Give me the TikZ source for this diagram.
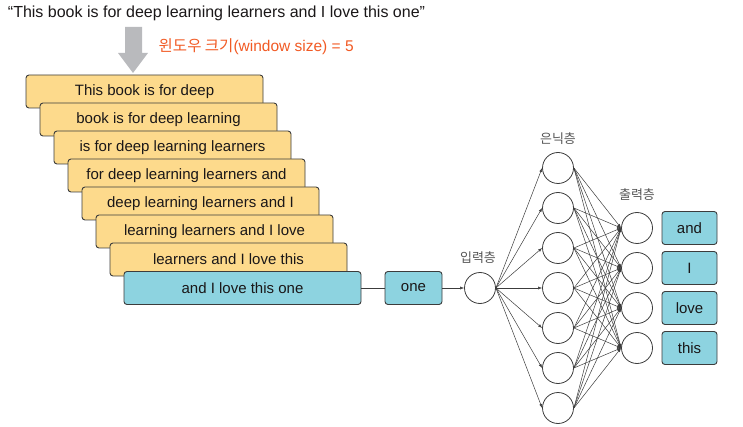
\documentclass[tikz,border=0pt]{standalone}
\usepackage{fontspec}
\setmainfont{Liberation Sans}
\newfontfamily\krfont{Noto Sans CJK KR}
\usepackage{tikz}
\usetikzlibrary{arrows.meta}
\definecolor{wd-text}{HTML}{1A1718}
\definecolor{wd-line}{HTML}{3C3C3C}
\definecolor{wd-yellow}{HTML}{FDDA8C}
\definecolor{wd-blue}{HTML}{8DD3E0}
\definecolor{wd-red}{HTML}{F15A24}
\definecolor{wd-gray}{HTML}{B9BABD}
\definecolor{wd-label}{HTML}{555555}

\tikzset{
    winbox/.style={draw=wd-line, line width=0.9pt, rounded corners=3pt,
        minimum width=237pt, minimum height=33pt, inner sep=0pt,
        text=wd-text, font=\fontsize{15}{17}\selectfont},
    wordbox/.style={winbox, fill=wd-blue, minimum width=55pt},
    neuron/.style={circle, draw=wd-line, line width=0.8pt, fill=white,
        minimum size=31pt, inner sep=0pt},
    link/.style={wd-line, line width=0.5pt, -{Latex[length=4pt, width=3pt]}},
    layerlabel/.style={text=wd-label, font=\krfont\fontsize{13}{15}\selectfont}
}

\begin{document}
\begin{tikzpicture}[x=1pt, y=-1pt, thick]
    \useasboundingbox (0,0) rectangle (743,427);
    % Sentence and window size
    \node[text=wd-text, font=\fontsize{16}{18}\selectfont] (sentence) at (216.5,13)
        {“This book is for deep learning learners and I love this one”};
    \fill[wd-gray] (125,27) -- (142,27) -- (142,53) -- (148,53) -- (133,73)
        -- (118,53) -- (125,53) -- cycle;
    \node[anchor=west, text=wd-red, font=\fontsize{15.5}{17}\selectfont] (winsize) at (155,47)
        {{\krfont 윈도우 크기}(window size) = 5};
    % Sliding windows
    \foreach \i/\t in {1/This book is for deep, 2/book is for deep learning,
        3/is for deep learning learners, 4/for deep learning learners and,
        5/deep learning learners and I, 6/learning learners and I love,
        7/learners and I love this}
        \node[winbox, fill=wd-yellow] (win\i) at ({130.5+14*\i}, {63.5+28*\i}) {\t};
    \node[winbox, fill=wd-blue] (win8) at (242.5,288) {and I love this one};
    \node[wordbox, minimum width=57pt] (target) at (413.5,288) {one};
    \draw[wd-line, line width=0.8pt] (win8.east) -- (target.west);
    % Network
    \node[neuron] (in) at (480,288) {};
    \node[layerlabel] (inlabel) at (478,258) {입력층};
    \foreach \i in {1,...,7}
        \node[neuron] (h\i) at (558,{128+40*\i}) {};
    \node[layerlabel] (hlabel) at (558,139) {은닉층};
    \foreach \j in {1,...,4}
        \node[neuron] (o\j) at (637,{188+40*\j}) {};
    \node[layerlabel] (olabel) at (637,195) {출력층};
    \foreach \j/\w in {1/and, 2/I, 3/love, 4/this}
        \node[wordbox] (word\j) at (689.5,{188+40*\j}) {\w};
    \draw[link] (target.east) -- (in.west);
    \foreach \i in {1,...,7} {
        \draw[link] (in.east) -- (h\i.west);
        \foreach \j in {1,...,4}
            \draw[link] (h\i.east) -- (o\j.west);
    }
\end{tikzpicture}
\end{document}
